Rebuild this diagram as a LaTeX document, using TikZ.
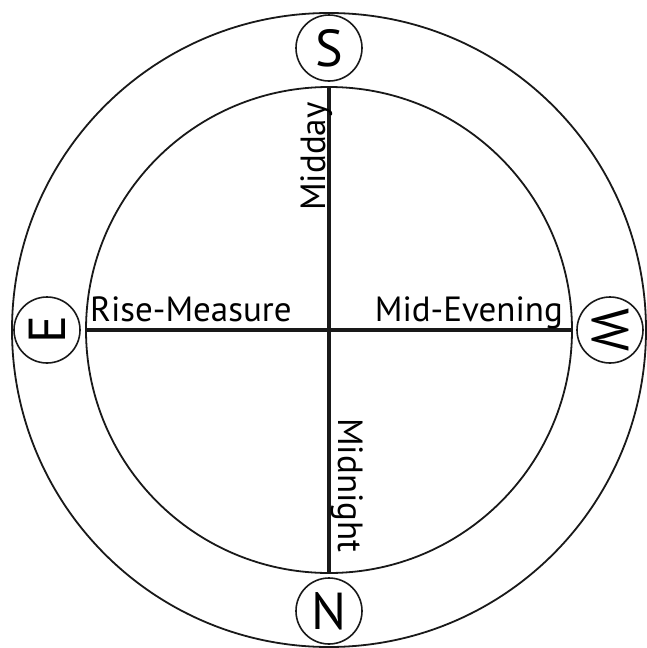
\documentclass[tikz,border=0pt]{standalone}
\usepackage{fontspec}
\setmainfont{PT Sans}
\usetikzlibrary{positioning}

\tikzset{
    ring/.style={
        circle,
        draw=black!90,
        line width=1.8pt,
        inner sep=0pt,
        outer sep=0pt
    },
    dirmark/.style={
        circle,
        draw=black!90,
        line width=1.6pt,
        fill=white,
        minimum size=66pt,
        inner sep=0pt,
        font=\fontsize{52}{52}\selectfont
    },
    axislabel/.style={
        inner sep=0pt,
        text=black,
        font=\fontsize{35}{35}\selectfont
    },
    axisline/.style={
        line width=3.4pt,
        black!90
    }
}

\begin{document}
\begin{tikzpicture}[x=1pt, y=-1pt]
    \useasboundingbox[fill=white] (0,0) rectangle (647,648);

    % rings
    \node[ring, minimum size=634pt] (outer) at (329,330) {};
    \node[ring, minimum size=486pt] (inner) at (329,330) {};

    % axes
    \draw[axisline] (inner.north) -- (inner.south);
    \draw[axisline] (inner.west) -- (inner.east);

    % directions
    \node[dirmark] (south) at (329,48) {S};
    \node[dirmark] (north) at (329,611) {N};
    \node[dirmark, rotate=90] (east) at (47,330) {E};
    \node[dirmark, rotate=-90] (west) at (610,330) {W};

    % hours
    \node[axislabel, anchor=base west] (rise) at (90,321) {Rise-Measure};
    \node[axislabel, anchor=base east] (evening) at (563,321) {Mid-Evening};
    \node[axislabel, anchor=base west, rotate=90] (midday) at (325,211) {Midday};
    \node[axislabel, anchor=base west, rotate=-90] (midnight) at (338,418) {Midnight};
\end{tikzpicture}
\end{document}
